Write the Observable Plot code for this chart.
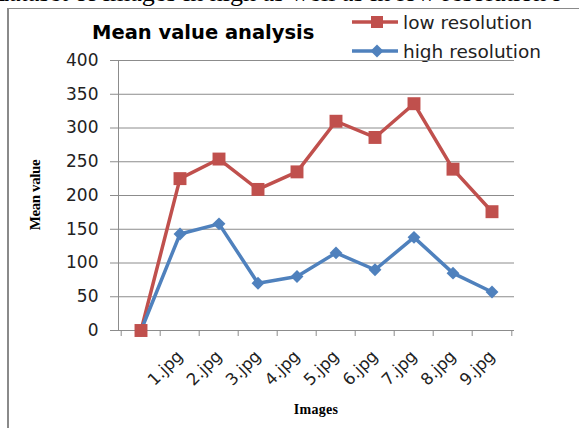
<!DOCTYPE html>
<html>
<head>
<meta charset="utf-8">
<script src="https://cdn.jsdelivr.net/npm/d3@7"></script>
<script src="https://cdn.jsdelivr.net/npm/@observablehq/plot@0.6"></script>
<style>
  html, body { margin: 0; padding: 0; background: #fff; }
  #wrap { position: relative; width: 579px; height: 428px; overflow: hidden; background: #fff; }
  #wrap svg { position: absolute; left: 0; top: 0; }
  .abs { position: absolute; white-space: nowrap; }
</style>
</head>
<body>
<div id="wrap">
  <div class="abs" style="left:-4px;top:-22.5px;font:26px 'Liberation Serif',serif;line-height:30px;color:#000;">dataset of images in high as well as in low resolution i</div>
  <div class="abs" style="left:7px;top:8px;width:2px;height:430px;background:#8a8a8a;"></div>
  <div class="abs" style="left:7px;top:8px;width:600px;height:1px;background:#8a8a8a;"></div>
  <div class="abs" style="left:92px;top:21px;font:bold 19.5px 'DejaVu Sans',sans-serif;color:#000;">Mean value analysis</div>
  <div class="abs" style="left:35px;top:195px;transform:translate(-50%,-50%) rotate(-90deg);font:bold 15px 'Liberation Serif',serif;letter-spacing:-0.4px;color:#000;">Mean value</div>
  <div class="abs" style="left:316px;top:410px;transform:translate(-50%,-50%);font:bold 14px 'Liberation Serif',serif;letter-spacing:0.3px;color:#000;">Images</div>
  <div id="legend"></div>
</div>
<script>
const categories = ["", "1.jpg", "2.jpg", "3.jpg", "4.jpg", "5.jpg", "6.jpg", "7.jpg", "8.jpg", "9.jpg"];
const lowResolution  = [0, 225, 254, 209, 235, 310, 286, 336, 239, 176];
const highResolution = [0, 143, 158, 70, 80, 115, 90, 138, 85, 57];
const yTicks = [0, 50, 100, 150, 200, 250, 300, 350, 400];
const seriesNames = ["low resolution", "high resolution"];
const seriesColors = ["#C0504D", "#4F81BD"];

const low = categories.map((c, i) => ({cat: c, v: lowResolution[i]}));
const high = categories.map((c, i) => ({cat: c, v: highResolution[i]}));

const W = 579, H = 428, mL = 118, mR = 65, mT = 60, mB = 98;
const bw = (W - mL - mR) / categories.length;

const chart = Plot.plot({
  width: W, height: H,
  marginLeft: mL, marginRight: mR, marginTop: mT, marginBottom: mB,
  style: {fontFamily: "'DejaVu Sans', sans-serif", background: "transparent", color: "#222"},
  x: {type: "band", domain: categories, padding: 0},
  y: {domain: [0, 400]},
  marks: [
    Plot.gridY(yTicks, {stroke: "#8c8c8c", strokeOpacity: 1, strokeWidth: 1}),
    Plot.frame({anchor: "left", stroke: "#8c8c8c", strokeWidth: 1}),
    Plot.axisY(yTicks, {tickSize: 8, tickPadding: 12, stroke: "#8c8c8c", fill: "#222", fontSize: 17, label: null}),
    Plot.axisX({tickSize: 0, tickPadding: 23, tickRotate: -45, fill: "#222", fontSize: 16.5, label: null}),
    Plot.ruleX(categories, {x: d => d, y1: 0, y2: 0, dx: -bw / 2, insetBottom: -6, stroke: "#8c8c8c"}),
    Plot.ruleX(categories.slice(-1), {x: d => d, y1: 0, y2: 0, dx: bw / 2, insetBottom: -6, stroke: "#8c8c8c"}),
    Plot.line(low, {x: "cat", y: "v", stroke: seriesColors[0], strokeWidth: 3.5}),
    Plot.line(high, {x: "cat", y: "v", stroke: seriesColors[1], strokeWidth: 3.5}),
    Plot.dot(high, {x: "cat", y: "v", symbol: "diamond2", r: 5.8, fill: seriesColors[1], stroke: "none"}),
    Plot.dot(low, {x: "cat", y: "v", symbol: "square", r: 7.3, fill: seriesColors[0], stroke: "none"})
  ]
});
document.getElementById("wrap").appendChild(chart);

// legend
const legend = document.getElementById("legend");
seriesNames.forEach((name, i) => {
  const top = i === 0 ? 22 : 51;
  const item = document.createElement("div");
  item.className = "abs";
  item.style.left = "352px";
  item.style.top = (top - 12) + "px";
  item.style.height = "24px";
  item.style.display = "flex";
  item.style.alignItems = "center";
  const sw = i === 0
    ? `<svg width="46" height="24" style="position:static"><line x1="0" y1="12" x2="46" y2="12" stroke="${seriesColors[i]}" stroke-width="3.5"/><rect x="19" y="6" width="12" height="12" fill="${seriesColors[i]}"/></svg>`
    : `<svg width="46" height="24" style="position:static"><line x1="0" y1="12" x2="46" y2="12" stroke="${seriesColors[i]}" stroke-width="3.5"/><path d="M25,5.5L31.5,12L25,18.5L18.5,12Z" fill="${seriesColors[i]}"/></svg>`;
  item.innerHTML = sw + `<span style="margin-left:5px;font:18.5px 'DejaVu Sans',sans-serif;color:#222;">${name}</span>`;
  legend.appendChild(item);
});
</script>
</body>
</html>
